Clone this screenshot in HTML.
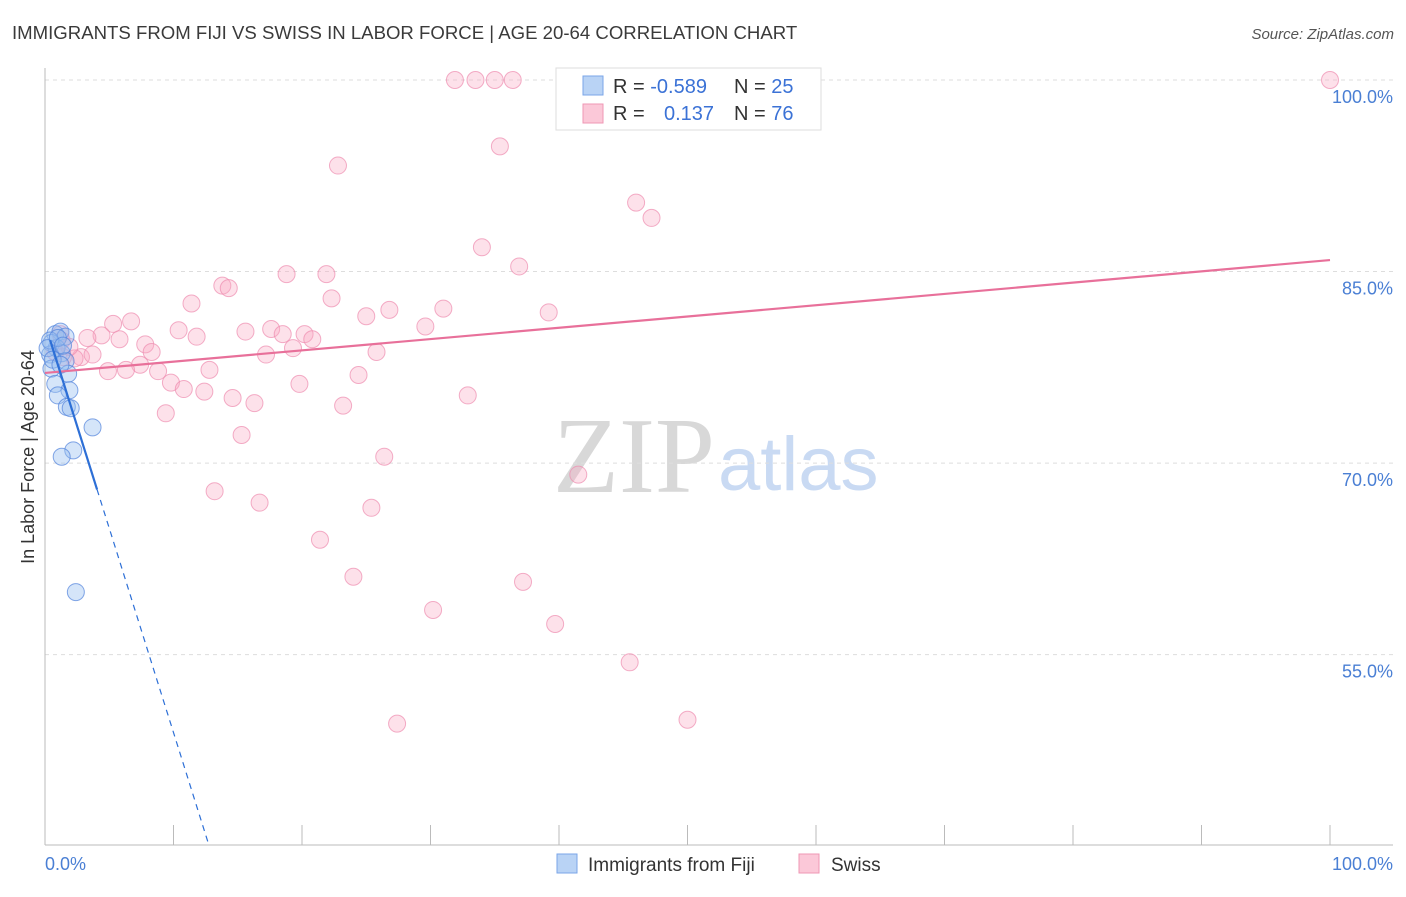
<!DOCTYPE html>
<html><head><meta charset="utf-8"><style>
body{margin:0;background:#fff;font-family:"Liberation Sans",sans-serif}
</style></head><body>
<svg id="chart" width="1406" height="892" xmlns="http://www.w3.org/2000/svg" font-family="Liberation Sans, sans-serif">
<text x="12" y="39" font-size="18.6" fill="#3a3a3a">IMMIGRANTS FROM FIJI VS SWISS IN LABOR FORCE | AGE 20-64 CORRELATION CHART</text>
<text x="1394" y="39" font-size="15" fill="#555" font-style="italic" text-anchor="end">Source: ZipAtlas.com</text>
<g>
<text x="553" y="492" font-size="108" font-family="Liberation Serif, serif" fill="#d8d8d8">ZIP</text>
<text x="718" y="490" font-size="76" fill="#c9daf3">atlas</text>
</g>
<g id="grid"></g>
<line x1="45" y1="68" x2="45" y2="845" stroke="#bbb"/>
<line x1="45" y1="845" x2="1393" y2="845" stroke="#bbb"/>
<g id="marks"></g>
<text transform="translate(34,457) rotate(-90)" font-size="18" fill="#333" text-anchor="middle">In Labor Force | Age 20-64</text>
<text x="45" y="870" font-size="18" fill="#4a7fd4">0.0%</text>
<text x="1393" y="870" font-size="18" fill="#4a7fd4" text-anchor="end">100.0%</text>
<g>
<rect x="556" y="68" width="265" height="62" fill="#fff" stroke="#ddd"/>
<rect x="583" y="76" width="20" height="19" fill="#b9d3f5" stroke="#7aa6e8"/>
<rect x="583" y="104" width="20" height="19" fill="#fbc8d8" stroke="#ef97b4"/>
<text x="613" y="93" font-size="20" fill="#333">R = <tspan fill="#3b72d6">-0.589</tspan></text>
<text x="734" y="93" font-size="20" fill="#333">N = <tspan fill="#3b72d6">25</tspan></text>
<text x="613" y="120" font-size="20" fill="#333">R = </text>
<text x="664" y="120" font-size="20" fill="#3b72d6">0.137</text>
<text x="734" y="120" font-size="20" fill="#333">N = <tspan fill="#3b72d6">76</tspan></text>
</g>
<g>
<rect x="557" y="854" width="20" height="19" fill="#b9d3f5" stroke="#7aa6e8"/>
<text x="588" y="871" font-size="19" fill="#333">Immigrants from Fiji</text>
<rect x="799" y="854" width="20" height="19" fill="#fbc8d8" stroke="#ef97b4"/>
<text x="831" y="871" font-size="19" fill="#333">Swiss</text>
</g>
</svg>
<script>
const yTicks=[100,85,70,55];
const yTickLabels=["100.0%","85.0%","70.0%","55.0%"];
const xTicks=[0,10,20,30,40,50,60,70,80,90,100];
const swissX=[31.9,33.5,35.0,36.4,100,35.4,22.8,46.0,47.2,34.0,36.9,18.8,21.9,13.8,14.3,11.4,22.3,26.8,31.0,39.2,25.0,29.6,6.7,5.3,10.4,15.6,17.6,18.5,20.2,20.8,11.8,4.4,3.3,5.8,7.8,1.2,1.3,8.3,17.2,19.3,25.8,2.8,3.7,2.3,7.4,4.9,6.3,8.8,12.8,9.8,10.8,12.4,19.8,24.4,14.6,16.3,23.2,32.9,9.4,15.3,26.4,41.5,13.2,16.7,25.4,21.4,24.0,37.2,30.2,39.7,45.5,27.4,50.0,1.4,0.8,1.9];
const swissY=[100,100,100,100,100,94.8,93.3,90.4,89.2,86.9,85.4,84.8,84.8,83.9,83.7,82.5,82.9,82.0,82.1,81.8,81.5,80.7,81.1,80.9,80.4,80.3,80.5,80.1,80.1,79.7,79.9,80.0,79.8,79.7,79.3,80.1,79.6,78.7,78.5,79.0,78.7,78.3,78.5,78.2,77.7,77.2,77.3,77.2,77.3,76.3,75.8,75.6,76.2,76.9,75.1,74.7,74.5,75.3,73.9,72.2,70.5,69.1,67.8,66.9,66.5,64.0,61.1,60.7,58.5,57.4,54.4,49.6,49.9,78.3,78.7,79.1];
const fijiX=[0.8,1.2,1.6,0.5,0.9,1.3,0.4,1.6,0.5,1.8,0.8,1.9,1.0,1.7,2.0,3.7,2.2,1.3,2.4,0.4,0.2,1.0,1.4,0.6,1.2];
const fijiY=[80.1,80.3,79.9,79.4,79.0,78.6,78.5,78.0,77.4,77.0,76.2,75.7,75.3,74.4,74.3,72.8,71.0,70.5,59.9,79.6,79.0,79.8,79.2,78.1,77.7];
const fijiFit=[80.9,-3.2];
const swissFit=[77.06,0.0884];
const X=v=>45+v*12.85, Y=v=>80+(100-v)*12.77;
const NS="http://www.w3.org/2000/svg";
const mk=(t,a,p)=>{const e=document.createElementNS(NS,t);for(const k in a)e.setAttribute(k,a[k]);p.appendChild(e);return e;};
const g=document.getElementById('grid'),m=document.getElementById('marks'),svg=document.getElementById('chart');
yTicks.forEach((t,i)=>{
 const l=mk('line',{x1:45,x2:1393,y1:Y(t),y2:Y(t),stroke:'#ddd','stroke-dasharray':'4,4'},g);
 
 
 const tx=mk('text',{x:1393,y:Y(t)+23,'font-size':18,fill:'#4a7fd4','text-anchor':'end'},svg);
 tx.textContent=yTickLabels[i];
 
 
});
xTicks.forEach(t=>{
 const l=mk('line',{x1:X(t),x2:X(t),y1:825,y2:845,stroke:'#bbb'},g);
 
 
});
swissX.forEach((x,i)=>{
 const c=mk('circle',{cx:X(x),cy:Y(swissY[i]),r:8.5,fill:'rgba(248,170,196,0.35)',stroke:'rgba(238,140,175,0.7)','stroke-width':1},m);
 
 
});
fijiX.forEach((x,i)=>{
 const c=mk('circle',{cx:X(x),cy:Y(fijiY[i]),r:8.5,fill:'rgba(150,190,240,0.4)',stroke:'rgba(80,130,220,0.7)','stroke-width':1},m);
 
 
});
const sl=mk('line',{x1:X(0),y1:Y(swissFit[0]),x2:X(100),y2:Y(swissFit[0]+swissFit[1]*100),stroke:'#e8709a','stroke-width':2.2},m);


const fy=x=>fijiFit[0]+fijiFit[1]*x;
const fl=mk('line',{x1:X(0.4),y1:Y(fy(0.4)),x2:X(4.05),y2:Y(fy(4.05)),stroke:'#2d6fd6','stroke-width':2.2},m);


const xe=(fijiFit[0]-40)/-fijiFit[1];
const fd=mk('line',{x1:X(4.05),y1:Y(fy(4.05)),x2:X(xe),y2:Y(40),stroke:'#2d6fd6','stroke-width':1.2,'stroke-dasharray':'6,5'},m);


</script>
</body></html>
